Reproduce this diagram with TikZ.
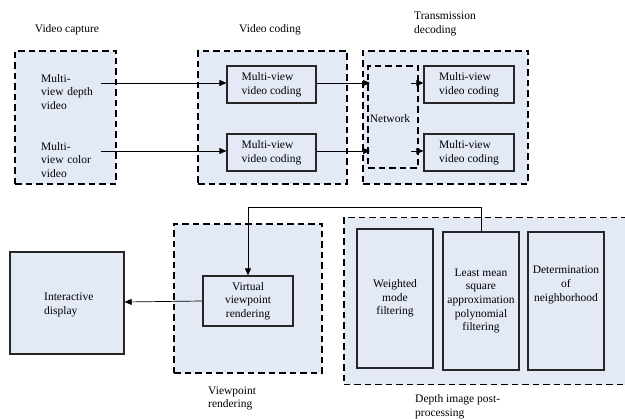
\documentclass[tikz,border=0pt]{standalone}
\usepackage{fontspec}
\setmainfont{Liberation Serif}
\usetikzlibrary{arrows.meta,positioning}
\definecolor{panel}{HTML}{E3EAF6}
\tikzset{
  x=1pt, y=-1pt,
  every node/.style={font=\fontsize{11.5}{13.7}\selectfont, inner sep=0pt},
  group/.style={draw=black, fill=panel, line width=1.5pt, dash pattern=on 6.5pt off 4pt, rectangle},
  block/.style={draw=black!85, fill=panel, line width=1.2pt, rectangle, align=center},
  coder/.style={block, align=left, minimum height=37},
  caption/.style={align=left},
  link/.style={line width=0.7pt, -{Triangle[length=7pt,width=6pt]}},
}
\begin{document}
\begin{tikzpicture}
\clip (0,0) rectangle (625,419);
\fill[white] (0,0) rectangle (625,419);

% --- stage frames ---
\node[group, minimum width=101, minimum height=133] (cap) at (65.5,117.5) {};
\node[group, minimum width=149, minimum height=133] (enc) at (272.5,117.5) {};
\node[group, minimum width=165, minimum height=133] (trans) at (445.5,117.5) {};
\node[group, minimum width=50, minimum height=102] (net) at (393,117) {};
\node[group, minimum width=148, minimum height=149] (vr) at (248,298.5) {};
\node[group, minimum width=300, minimum height=167, anchor=north west] (post) at (343,217) {};

% --- stage captions ---
\node (capL) at (67,30) {Video capture};
\node (encL) at (270,30) {Video coding};
\node[caption, anchor=west] (transL) at (414,24) {Transmission\\decoding};
\node[caption, anchor=west] (vrL) at (208,398.5) {Viewpoint\\rendering};
\node[caption, anchor=west] (postL) at (415,406.5) {Depth image post-\\processing};

% --- capture sources ---
\node[caption, anchor=west, text width=60] (depth) at (41,92) {Multi-\\view depth\\video};
\node[caption, anchor=west, text width=60] (color) at (41,160) {Multi-\\view color\\video};

% --- coding / decoding blocks ---
\node[coder, minimum width=89] (mvc1) at (271.5,84.5) {Multi-view\\video coding};
\node[coder, minimum width=89] (mvc2) at (271.5,152.5) {Multi-view\\video coding};
\node[coder, minimum width=90] (dec1) at (469,84.5) {Multi-view\\video coding};
\node[coder, minimum width=90] (dec2) at (469,152.5) {Multi-view\\video coding};
\node (netL) at (390,119) {Network};

% --- rendering / display ---
\node[block, minimum width=90, minimum height=50] (virt) at (248,301) {Virtual\\viewpoint\\rendering};
\node[block, minimum width=114, minimum height=102] (disp) at (67,303) {};
\node[caption, anchor=west] (dispL) at (44,305) {Interactive\\display};

% --- post-processing filters ---
\node[block, minimum width=76, minimum height=139] (wmf) at (395,298.5) {Weighted\\mode\\filtering};
\node[block, minimum width=76, minimum height=138] (lms) at (481,301) {Least mean\\square\\approximation\\polynomial\\filtering};
\node[block, minimum width=76, minimum height=138] (nbh) at (566,301) {};
\node[align=center, anchor=north] (nbhL) at (566,266) {Determination\\of\\neighborhood};

% --- connectors ---
\coordinate (d0) at (101,83);
\coordinate (c0) at (101,151);
\draw[link] (d0) -- (d0 -| mvc1.west);
\draw[link] (c0) -- (c0 -| mvc2.west);
\draw[link] (mvc1.east |- 0,83) -- (370,83);
\draw[link] (mvc2.east |- 0,151) -- (370,151);
\coordinate (n1) at (411,83);
\coordinate (n2) at (411,151);
\draw[link] (n1) -- (n1 -| dec1.west);
\draw[link] (n2) -- (n2 -| dec2.west);
\draw[link] (lms.north) -- (481,207) -- (virt.north |- 0,207) -- (virt.north);
\draw[link] (virt.west |- 0,301) -- (disp.east |- 0,302);
\end{tikzpicture}
\end{document}
